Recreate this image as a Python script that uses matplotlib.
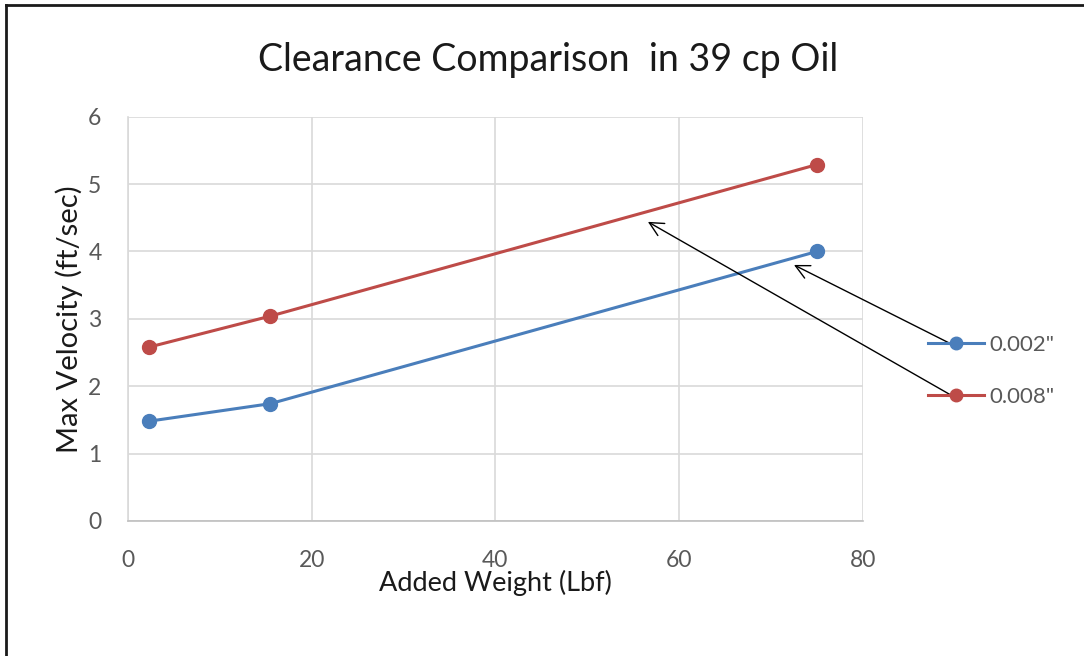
import matplotlib.pyplot as plt
from matplotlib.lines import Line2D

plt.rcParams['font.family'] = ['Lato', 'DejaVu Sans']

# Added weight (Lbf) vs max velocity (ft/sec) for two clearances
weight = [2.3, 15.5, 75.0]
vel_002 = [1.48, 1.74, 4.0]
vel_008 = [2.58, 3.04, 5.29]
series_labels = ['0.002"', '0.008"']

x_ticks = [0, 20, 40, 60, 80]
y_ticks = [0, 1, 2, 3, 4, 5, 6]

blue = '#4a7ebb'
red = '#be4b48'
grid_col = '#d9d9d9'
tick_col = '#595959'

fig = plt.figure(figsize=(10.84, 6.56), dpi=100)
ax = fig.add_axes([0.118, 0.206, 0.678, 0.616])

ax.plot(weight, vel_002, color=blue, lw=2.2, marker='o', ms=10, label=series_labels[0])
ax.plot(weight, vel_008, color=red, lw=2.2, marker='o', ms=10, label=series_labels[1])

ax.set_xlim(0, 80)
ax.set_ylim(0, 6)
ax.set_xticks(x_ticks)
ax.set_yticks(y_ticks)
ax.grid(True, color=grid_col, lw=1.2)
ax.set_axisbelow(True)
ax.tick_params(length=0, labelsize=16.5, labelcolor=tick_col)
ax.tick_params(axis='x', pad=21)
ax.tick_params(axis='y', pad=19)
for side in ['top', 'right']:
    ax.spines[side].set_visible(False)
ax.spines['left'].set_color(grid_col)
ax.spines['bottom'].set_color('#bfbfbf')
ax.spines['left'].set_linewidth(1.2)
ax.spines['bottom'].set_linewidth(1.2)

ax.set_xlabel('Added Weight (Lbf)', fontsize=19.5, color='#1a1a1a', labelpad=-1)
ax.set_ylabel('Max Velocity (ft/sec)', fontsize=21, color='#1a1a1a', labelpad=4)
fig.text(0.5055, 0.9085, 'Clearance Comparison  in 39 cp Oil', fontsize=27,
         color='#1a1a1a', ha='center', va='center')

handles = [Line2D([], [], color=blue, lw=2.2, marker='o', ms=9),
           Line2D([], [], color=red, lw=2.2, marker='o', ms=9)]
ax.legend(handles, series_labels, loc='center left', bbox_to_anchor=(1.062, 0.371),
          frameon=False, fontsize=16, labelcolor=tick_col, handlelength=2.5,
          handletextpad=0.25, labelspacing=1.45)

# arrows from the legend entries back to the lines
ax.annotate('', xy=(72.5, 3.80), xytext=(1.122, 0.436), textcoords='axes fraction',
            arrowprops=dict(arrowstyle='->', color='black', lw=1, mutation_scale=25,
                            shrinkA=0, shrinkB=0), annotation_clip=False)
ax.annotate('', xy=(56.6, 4.44), xytext=(1.122, 0.309), textcoords='axes fraction',
            arrowprops=dict(arrowstyle='->', color='black', lw=1, mutation_scale=25,
                            shrinkA=0, shrinkB=0), annotation_clip=False)

# outer frame (left and top edges)
fig.add_artist(Line2D([0.0055, 0.0055], [0, 0.992], color='#1a1a1a', lw=2,
                      transform=fig.transFigure))
fig.add_artist(Line2D([0.0055, 1], [0.992, 0.992], color='#1a1a1a', lw=2,
                      transform=fig.transFigure))

fig.savefig('out.png', dpi=100)
